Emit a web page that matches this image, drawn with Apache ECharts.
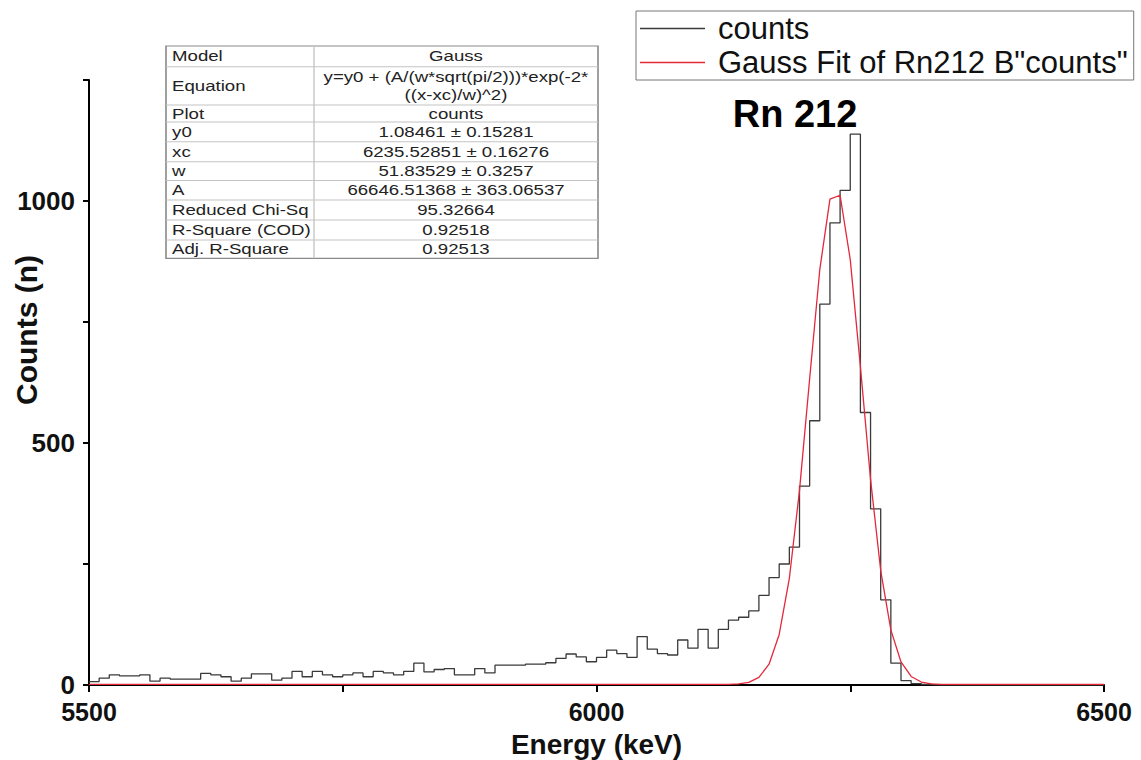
<!DOCTYPE html>
<html>
<head>
<meta charset="utf-8">
<title>Rn 212 Gauss fit</title>
<script src="https://cdn.jsdelivr.net/npm/echarts@6/dist/echarts.min.js"></script>
<style>
  html, body { margin: 0; padding: 0; background: #fff; }
  #chart { width: 1141px; height: 760px; }
</style>
</head>
<body>
<div id="chart"></div>
<script>
// Alpha spectrum: counts per 10 keV bin, left edges 5500 ... 6490 keV
const binStart = 5500;
const binWidth = 10;
const counts = [
  7, 14, 21, 19, 19, 21, 8, 14, 12, 12,
  12, 24, 21, 17, 8, 14, 23, 23, 10, 14,
  28, 17, 28, 21, 17, 21, 25, 17, 28, 25,
  21, 28, 45, 27, 32, 34, 21, 21, 34, 25,
  41, 41, 41, 43, 43, 46, 55, 64, 58, 48,
  57, 72, 65, 57, 100, 74, 65, 62, 93, 76,
  115, 76, 115, 134, 140, 153, 185, 222, 250, 285,
  411, 546, 787, 955, 1022, 1138, 563, 364, 176, 45,
  9, 3, 1, 0, 0, 0, 0, 0, 0, 0,
  0, 0, 0, 0, 0, 0, 0, 0, 0, 0
];

// Gauss fit curve (keV, counts)
const fitEnergy = [5500, 6120, 6130, 6140, 6150, 6160, 6170, 6180, 6190, 6200,
  6210, 6220, 6230, 6240, 6250, 6260, 6270, 6280, 6290, 6300,
  6310, 6320, 6330, 6340, 6350, 6500];
const fitCounts = [1.1, 1.1, 1.3, 2.2, 5.5, 15.8, 43.0, 104.4, 220.3, 402.0,
  632.7, 858.4, 1003.9, 1011.9, 878.9, 658.1, 424.7, 236.5, 113.8, 47.6,
  17.6, 6.1, 2.4, 1.4, 1.1, 1.1];

// Axis ranges and labelled ticks
const xRange = [5500, 6500];
const xLabelled = [5500, 6000, 6500];
const yRange = [0, 1250];
const yLabelled = [0, 500, 1000];

// Series names
const histName = 'counts';
const fitName = 'Gauss Fit of Rn212 B"counts"';
const peakLabel = 'Rn 212';

// Fit report
const tableRows = [
  ['Model', ['Gauss']],
  ['Equation', ['y=y0 + (A/(w*sqrt(pi/2)))*exp(-2*', '((x-xc)/w)^2)']],
  ['Plot', ['counts']],
  ['y0', ['1.08461 \u00b1 0.15281']],
  ['xc', ['6235.52851 \u00b1 0.16276']],
  ['w', ['51.83529 \u00b1 0.3257']],
  ['A', ['66646.51368 \u00b1 363.06537']],
  ['Reduced Chi-Sq', ['95.32664']],
  ['R-Square (COD)', ['0.92518']],
  ['Adj. R-Square', ['0.92513']]
];

const FONT = "'Liberation Sans', Arial, Helvetica, sans-serif";

// histogram as a step line through bin left edges, closed at the last edge
const histData = counts.map((c, i) => [binStart + i * binWidth, c]);
histData.push([binStart + counts.length * binWidth, counts[counts.length - 1]]);
const fitData = fitEnergy.map((e, i) => [e, fitCounts[i]]);

// ---- fit report table (drawn slightly stretched horizontally) ----
function buildTable() {
  const left = 166, right = 598, split = 314, sx = 1.35;
  const rowLines = [46, 66.7, 105, 122, 141.7, 161.7, 180.5, 200, 220, 240, 258.3];
  const w = (right - left) / sx;
  const cx = (split - left) / sx;
  const children = [];
  children.push({
    type: 'rect',
    shape: { x: 0, y: rowLines[0], width: w, height: rowLines[rowLines.length - 1] - rowLines[0] },
    style: { fill: '#fff', stroke: '#8a8a8a', lineWidth: 1.2 }
  });
  for (let k = 1; k < rowLines.length - 1; k++) {
    children.push({
      type: 'line',
      shape: { x1: 0, y1: rowLines[k], x2: w, y2: rowLines[k] },
      style: { stroke: '#c4c4c4', lineWidth: 1 }
    });
  }
  children.push({
    type: 'line',
    shape: { x1: cx, y1: rowLines[0], x2: cx, y2: rowLines[rowLines.length - 1] },
    style: { stroke: '#c4c4c4', lineWidth: 1 }
  });
  const textStyle = { fontSize: 13.8, fontFamily: FONT, fill: '#222' };
  tableRows.forEach((row, r) => {
    const top = rowLines[r], bot = rowLines[r + 1];
    const mid = (top + bot) / 2;
    children.push({
      type: 'text',
      style: Object.assign({ text: row[0], x: 4.5, y: mid, align: 'left', verticalAlign: 'middle' }, textStyle)
    });
    const vals = row[1];
    const step = 18;
    vals.forEach((v, j) => {
      const y = mid + (j - (vals.length - 1) / 2) * step;
      children.push({
        type: 'text',
        style: Object.assign({ text: v, x: (cx + w) / 2, y: y, align: 'center', verticalAlign: 'middle' }, textStyle)
      });
    });
  });
  return { type: 'group', x: left, y: 0, scaleX: sx, scaleY: 1, children: children };
}

const chart = echarts.init(document.getElementById('chart'), null, { renderer: 'svg' });

chart.setOption({
  animation: false,
  backgroundColor: '#fff',
  grid: { left: 89, right: 37, top: 80, bottom: 75, containLabel: false, outerBoundsMode: 'none' },
  legend: {
    orient: 'vertical',
    left: 636,
    top: 11,
    icon: 'rect',
    itemWidth: 65,
    itemHeight: 1.6,
    itemGap: 3,
    padding: [2, 6, 2, 4],
    borderColor: '#777',
    borderWidth: 1,
    backgroundColor: '#fff',
    textStyle: { fontSize: 31, fontFamily: FONT, color: '#111', padding: [0, 0, 0, 8] },
    data: [histName, fitName]
  },
  xAxis: {
    type: 'value',
    min: xRange[0],
    max: xRange[1],
    interval: 250,
    name: 'Energy (keV)',
    nameLocation: 'middle',
    nameGap: 45,
    nameMoveOverlap: false,
    nameTextStyle: { fontSize: 28, fontWeight: 'bold', fontFamily: FONT, color: '#111' },
    axisLine: { show: true, lineStyle: { color: '#000', width: 2 } },
    axisTick: { show: true, inside: false, length: 7, lineStyle: { color: '#000', width: 2 } },
    axisLabel: {
      margin: 14,
      fontSize: 25,
      fontWeight: 'bold',
      fontFamily: FONT,
      color: '#111',
      showMinLabel: true,
      showMaxLabel: true,
      formatter: v => (xLabelled.indexOf(v) >= 0 ? String(v) : '')
    },
    splitLine: { show: false }
  },
  yAxis: {
    type: 'value',
    min: yRange[0],
    max: yRange[1],
    interval: 250,
    axisLine: { show: true, lineStyle: { color: '#000', width: 2 } },
    axisTick: { show: true, inside: false, length: 6, lineStyle: { color: '#000', width: 2 } },
    axisLabel: {
      margin: 14,
      fontSize: 26,
      fontWeight: 'bold',
      fontFamily: FONT,
      color: '#111',
      formatter: v => (yLabelled.indexOf(v) >= 0 ? String(v) : '')
    },
    splitLine: { show: false }
  },
  series: [
    {
      name: histName,
      type: 'line',
      step: 'end',
      data: histData,
      symbol: 'none',
      color: '#3a3a3a',
      lineStyle: { color: '#3a3a3a', width: 1.3 },
      z: 3
    },
    {
      name: fitName,
      type: 'line',
      data: fitData,
      symbol: 'none',
      smooth: false,
      color: '#e3283a',
      lineStyle: { color: '#e3283a', width: 1.3 },
      z: 4
    }
  ],
  graphic: [
    buildTable(),
    {
      type: 'text',
      x: 795,
      y: 114,
      style: { text: peakLabel, fontSize: 38, fontWeight: 'bold', fontFamily: FONT, fill: '#000', align: 'center', verticalAlign: 'middle' }
    },
    {
      type: 'text',
      x: 26,
      y: 330,
      rotation: Math.PI / 2,
      style: { text: 'Counts (n)', fontSize: 30, fontWeight: 'bold', fontFamily: FONT, fill: '#111', align: 'center', verticalAlign: 'middle' }
    }
  ]
});
</script>
</body>
</html>
